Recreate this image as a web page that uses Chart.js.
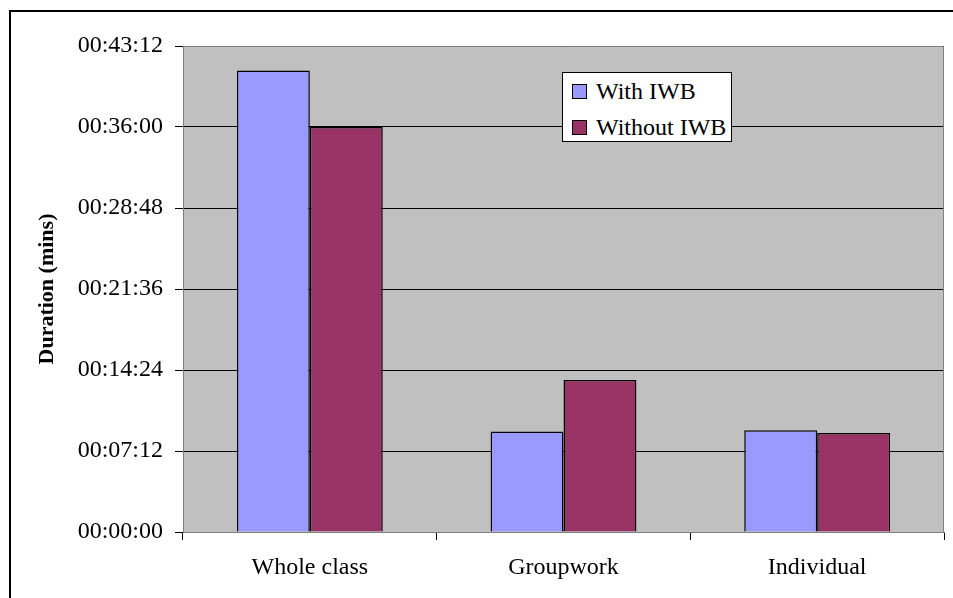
<!DOCTYPE html>
<html>
<head>
<meta charset="utf-8">
<script src="https://cdn.jsdelivr.net/npm/chart.js@4/dist/chart.umd.min.js"></script>
<style>
  html, body { margin: 0; padding: 0; background: #fff; overflow: hidden; }
  #wrap { position: relative; width: 953px; height: 598px; }
  #frame { position: absolute; left: 9px; top: 10px; width: 1000px; height: 1000px;
           border: 2px solid #000; box-sizing: border-box; }
  canvas { position: absolute; left: 0; top: 0; }
  #legend { position: absolute; left: 562px; top: 72px; width: 170px; height: 70px;
            box-sizing: border-box; border: 1px solid #000; background: #fff;
            font-family: "Liberation Serif", serif; font-size: 24px; line-height: 28px; color: #000; }
  .row { position: absolute; left: 9px; display: flex; align-items: center; height: 28px; }
  .sw { width: 13px; height: 13px; border: 1px solid #000; margin-right: 9px; }
</style>
</head>
<body>
<div id="wrap">
  <div id="frame"></div>
  <canvas id="c" width="953" height="598"></canvas>
  <div id="legend"></div>
</div>
<script>
// durations in seconds
const categories = ["Whole class", "Groupwork", "Individual"];
const withIWB    = [2462, 536, 543];
const withoutIWB = [2160, 811, 528];
const seriesNames  = ["With IWB", "Without IWB"];
const seriesColors = ["#9999FF", "#993366"];
const yMax  = 2592;   // 00:43:12
const yStep = 432;    // 00:07:12

function hms(s) {
  const p = (n) => String(n).padStart(2, "0");
  return `${p(Math.floor(s / 3600))}:${p(Math.floor(s / 60) % 60)}:${p(s % 60)}`;
}

// legend (html)
const leg = document.getElementById("legend");
seriesNames.forEach((name, i) => {
  const r = document.createElement("div");
  r.className = "row";
  r.style.top = (i === 0 ? 4 : 40) + "px";
  r.innerHTML = `<span class="sw" style="background:${seriesColors[i]}"></span><span>${name}</span>`;
  leg.appendChild(r);
});

const plotBg = {
  id: "plotBg",
  beforeDraw(chart) {
    const { ctx, chartArea: a } = chart;
    ctx.save();
    ctx.fillStyle = "#C0C0C0";
    ctx.fillRect(a.left, a.top, a.right - a.left, a.bottom - a.top);
    ctx.restore();
  },
  afterDatasetsDraw(chart) {
    const { ctx, chartArea: a } = chart;
    ctx.save();
    ctx.strokeStyle = "#808080";
    ctx.lineWidth = 1;
    ctx.beginPath();
    ctx.moveTo(a.left, a.top + 0.5);
    ctx.lineTo(a.right - 0.5, a.top + 0.5);
    ctx.lineTo(a.right - 0.5, a.bottom);
    ctx.stroke();
    ctx.restore();
  },
};

const font = "'Liberation Serif', 'Times New Roman', serif";

new Chart(document.getElementById("c"), {
  type: "bar",
  data: {
    labels: categories,
    datasets: [
      { label: seriesNames[0], data: withIWB, backgroundColor: seriesColors[0] },
      { label: seriesNames[1], data: withoutIWB, backgroundColor: seriesColors[1] },
    ],
  },
  options: {
    responsive: false,
    animation: false,
    devicePixelRatio: 1,
    layout: { padding: { top: 46, right: 9, left: 0, bottom: 0 } },
    datasets: {
      bar: { borderColor: "#000", borderWidth: 1.5, barPercentage: 1, categoryPercentage: 0.575 },
    },
    plugins: { legend: { display: false }, tooltip: { enabled: false } },
    scales: {
      x: {
        afterFit: (s) => { s.height = 66; },
        grid: { drawOnChartArea: false, color: "#000", tickLength: 8, offset: true },
        border: { color: "#808080" },
        ticks: { color: "#000", padding: 13, font: { family: font, size: 24 } },
      },
      y: {
        min: 0, max: yMax,
        afterFit: (s) => { s.width = 183; },
        grid: { color: "#000", tickColor: "#000", tickLength: 8 },
        border: { color: "#808080" },
        ticks: { stepSize: yStep, color: "#000", padding: 12,
                 font: { family: font, size: 24 }, callback: (v) => hms(v) },
        title: { display: true, text: "Duration (mins)", color: "#000",
                 padding: { top: 34, bottom: 0 },
                 font: { family: font, size: 22, weight: "bold" } },
      },
    },
  },
  plugins: [plotBg],
});
</script>
</body>
</html>
